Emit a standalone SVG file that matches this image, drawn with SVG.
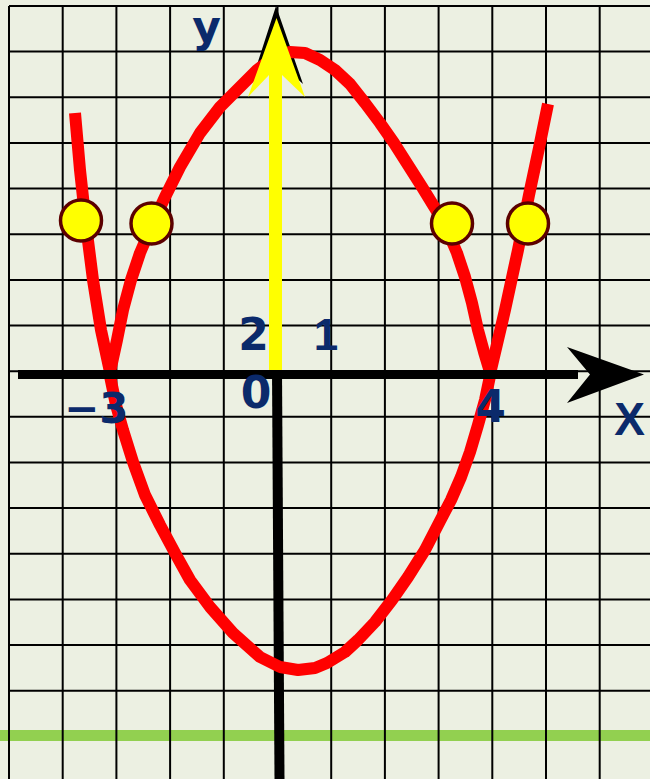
<svg xmlns="http://www.w3.org/2000/svg" width="650" height="779" viewBox="0 0 650 779">
<style>
.grid line{stroke:#000;stroke-width:2}
.curve{fill:none;stroke:#ff0000;stroke-width:12;stroke-linejoin:round;stroke-linecap:butt}
.pt{fill:#ffff00;stroke:#5c0000;stroke-width:3.5}
.lbl{font-family:"DejaVu Sans","Liberation Sans",sans-serif;font-weight:bold;fill:#0b2a6b}
</style>
<rect x="0" y="0" width="650" height="779" fill="#ecf0e2"/>
<rect id="green-line" x="0" y="730" width="650" height="11" fill="#92d050"/>
<g id="grid" class="grid">
<line x1="9" y1="6" x2="9" y2="779"/>
<line x1="62.7" y1="6" x2="62.7" y2="779"/>
<line x1="116.4" y1="6" x2="116.4" y2="779"/>
<line x1="170.1" y1="6" x2="170.1" y2="779"/>
<line x1="223.8" y1="6" x2="223.8" y2="779"/>
<line x1="277.5" y1="6" x2="277.5" y2="779"/>
<line x1="331.2" y1="6" x2="331.2" y2="779"/>
<line x1="384.9" y1="6" x2="384.9" y2="779"/>
<line x1="438.6" y1="6" x2="438.6" y2="779"/>
<line x1="492.3" y1="6" x2="492.3" y2="779"/>
<line x1="546" y1="6" x2="546" y2="779"/>
<line x1="599.7" y1="6" x2="599.7" y2="779"/>
<line x1="9" y1="6" x2="650" y2="6"/>
<line x1="9" y1="51.6" x2="650" y2="51.6"/>
<line x1="9" y1="97.3" x2="650" y2="97.3"/>
<line x1="9" y1="142.9" x2="650" y2="142.9"/>
<line x1="9" y1="188.6" x2="650" y2="188.6"/>
<line x1="9" y1="234.2" x2="650" y2="234.2"/>
<line x1="9" y1="279.9" x2="650" y2="279.9"/>
<line x1="9" y1="325.5" x2="650" y2="325.5"/>
<line x1="9" y1="371.2" x2="650" y2="371.2"/>
<line x1="9" y1="416.8" x2="650" y2="416.8"/>
<line x1="9" y1="462.5" x2="650" y2="462.5"/>
<line x1="9" y1="508.1" x2="650" y2="508.1"/>
<line x1="9" y1="553.8" x2="650" y2="553.8"/>
<line x1="9" y1="599.4" x2="650" y2="599.4"/>
<line x1="9" y1="645.1" x2="650" y2="645.1"/>
<line x1="9" y1="690.7" x2="650" y2="690.7"/>
</g>
<g id="y-axis">
<line x1="277" y1="370" x2="279.5" y2="779" stroke="#000" stroke-width="10"/>
<polygon points="276,6 303,84 280,63 254,74" fill="#000"/>
</g>
<g id="graph">
<polyline class="curve" points="75,113 80,170 86,225 93,280 101,330 110,372"/>
<polyline class="curve" points="110,372 117,340 123,310 131,280 140,253 152,225 165,197 180,167 200,133 220,107 240,87 257,70 273,58 290,52 305,53 320,60 335,70 350,84 365,103 380,123 394,143 408,165 422,187 438,213 448,232 457,253 465,277 472,303 478,330 484,352 490,372"/>
<polyline class="curve" points="490,374 505,310 518,250 529,195 539,148 548,104"/>
<polyline class="curve" points="110,376 116,405 123,430 133,462 145,495 160,525 175,553 190,580 210,607 233,633 260,657 280,667 298,670 315,668 327,663 345,652 358,640 375,622 392,600 408,577 425,550 440,521 451,500 461,477 470,452 478,425 485,400 490,376"/>
</g>
<g id="x-axis">
<rect x="18" y="370" width="560" height="9" fill="#000"/>
<polygon points="644,374.5 567,347 590,374.5 567,403" fill="#000"/>
</g>
<g id="y-arrow">
<polygon points="276.5,18 305,97 282,75 282,370 269,370 269,75 248,97" fill="#ffff00"/>
</g>
<g id="points">
<circle class="pt" cx="81" cy="220.5" r="20.5"/>
<circle class="pt" cx="151.5" cy="223.5" r="20.5"/>
<circle class="pt" cx="452" cy="223.5" r="20.5"/>
<circle class="pt" cx="528" cy="223.5" r="20.5"/>
</g>
<g id="labels">
<text class="lbl" x="206.5" y="42" font-size="44" text-anchor="middle">y</text>
<text class="lbl" x="629.5" y="435" font-size="46" text-anchor="middle" style="font-family:'Liberation Sans',sans-serif">X</text>
<text class="lbl" x="253.5" y="350" font-size="44" text-anchor="middle">2</text>
<text class="lbl" x="326" y="350" font-size="44" text-anchor="middle" style="font-family:'Liberation Sans',sans-serif">1</text>
<text class="lbl" x="256" y="408" font-size="44" text-anchor="middle">0</text>
<text class="lbl" x="64" y="423" font-size="42">−3</text>
<text class="lbl" x="490.5" y="422" font-size="44" text-anchor="middle">4</text>
</g>
</svg>
